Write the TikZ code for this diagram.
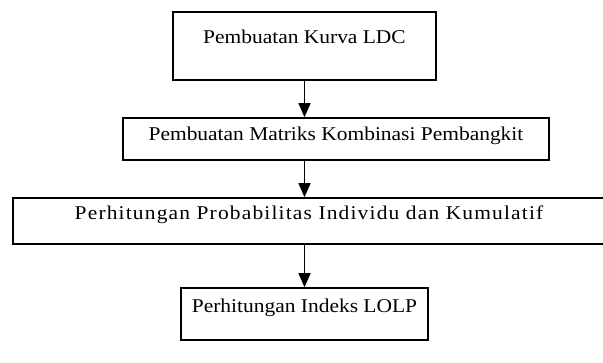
\documentclass[tikz,border=0pt]{standalone}
\usepackage{fontspec}
\setmainfont[FakeStretch=1.1]{Liberation Serif}
\usetikzlibrary{arrows.meta}
\begin{document}
\begin{tikzpicture}[x=1pt, y=-1pt,
    stepbox/.style={draw, line width=1.6pt, inner xsep=0pt, inner ysep=0pt, anchor=base, font=\fontsize{19.5}{24}\selectfont},
    flow/.style={-{Triangle[length=14pt, width=12pt]}, line width=1.4pt}]
    \useasboundingbox (0,0) rectangle (603,363);
    \clip (0,0) rectangle (603,363);
    \node[stepbox, minimum width=263pt, text height=31.4pt, text depth=36.6pt] (ldc) at (304.5,43.4) {Pembuatan Kurva LDC};
    \node[stepbox, minimum width=426pt, text height=22.4pt, text depth=19.6pt] (matriks) at (336,140.4) {Pembuatan Matriks Kombinasi Pembangkit};
    \node[stepbox, minimum width=592pt, text height=21.4pt, text depth=24.6pt, font=\fontsize{19.5}{24}\selectfont\addfontfeatures{LetterSpace=6}] (prob) at (309,219.4) {Perhitungan Probabilitas Individu dan Kumulatif};
    \node[stepbox, minimum width=247pt, text height=24.4pt, text depth=27.6pt] (lolp) at (304.5,312.4) {Perhitungan Indeks LOLP};
    \draw[flow] (ldc.south) -- (ldc.south |- matriks.north);
    \draw[flow] (matriks.south -| ldc.south) -- (ldc.south |- prob.north);
    \draw[flow] (prob.south -| ldc.south) -- (ldc.south |- lolp.north);
\end{tikzpicture}
\end{document}
